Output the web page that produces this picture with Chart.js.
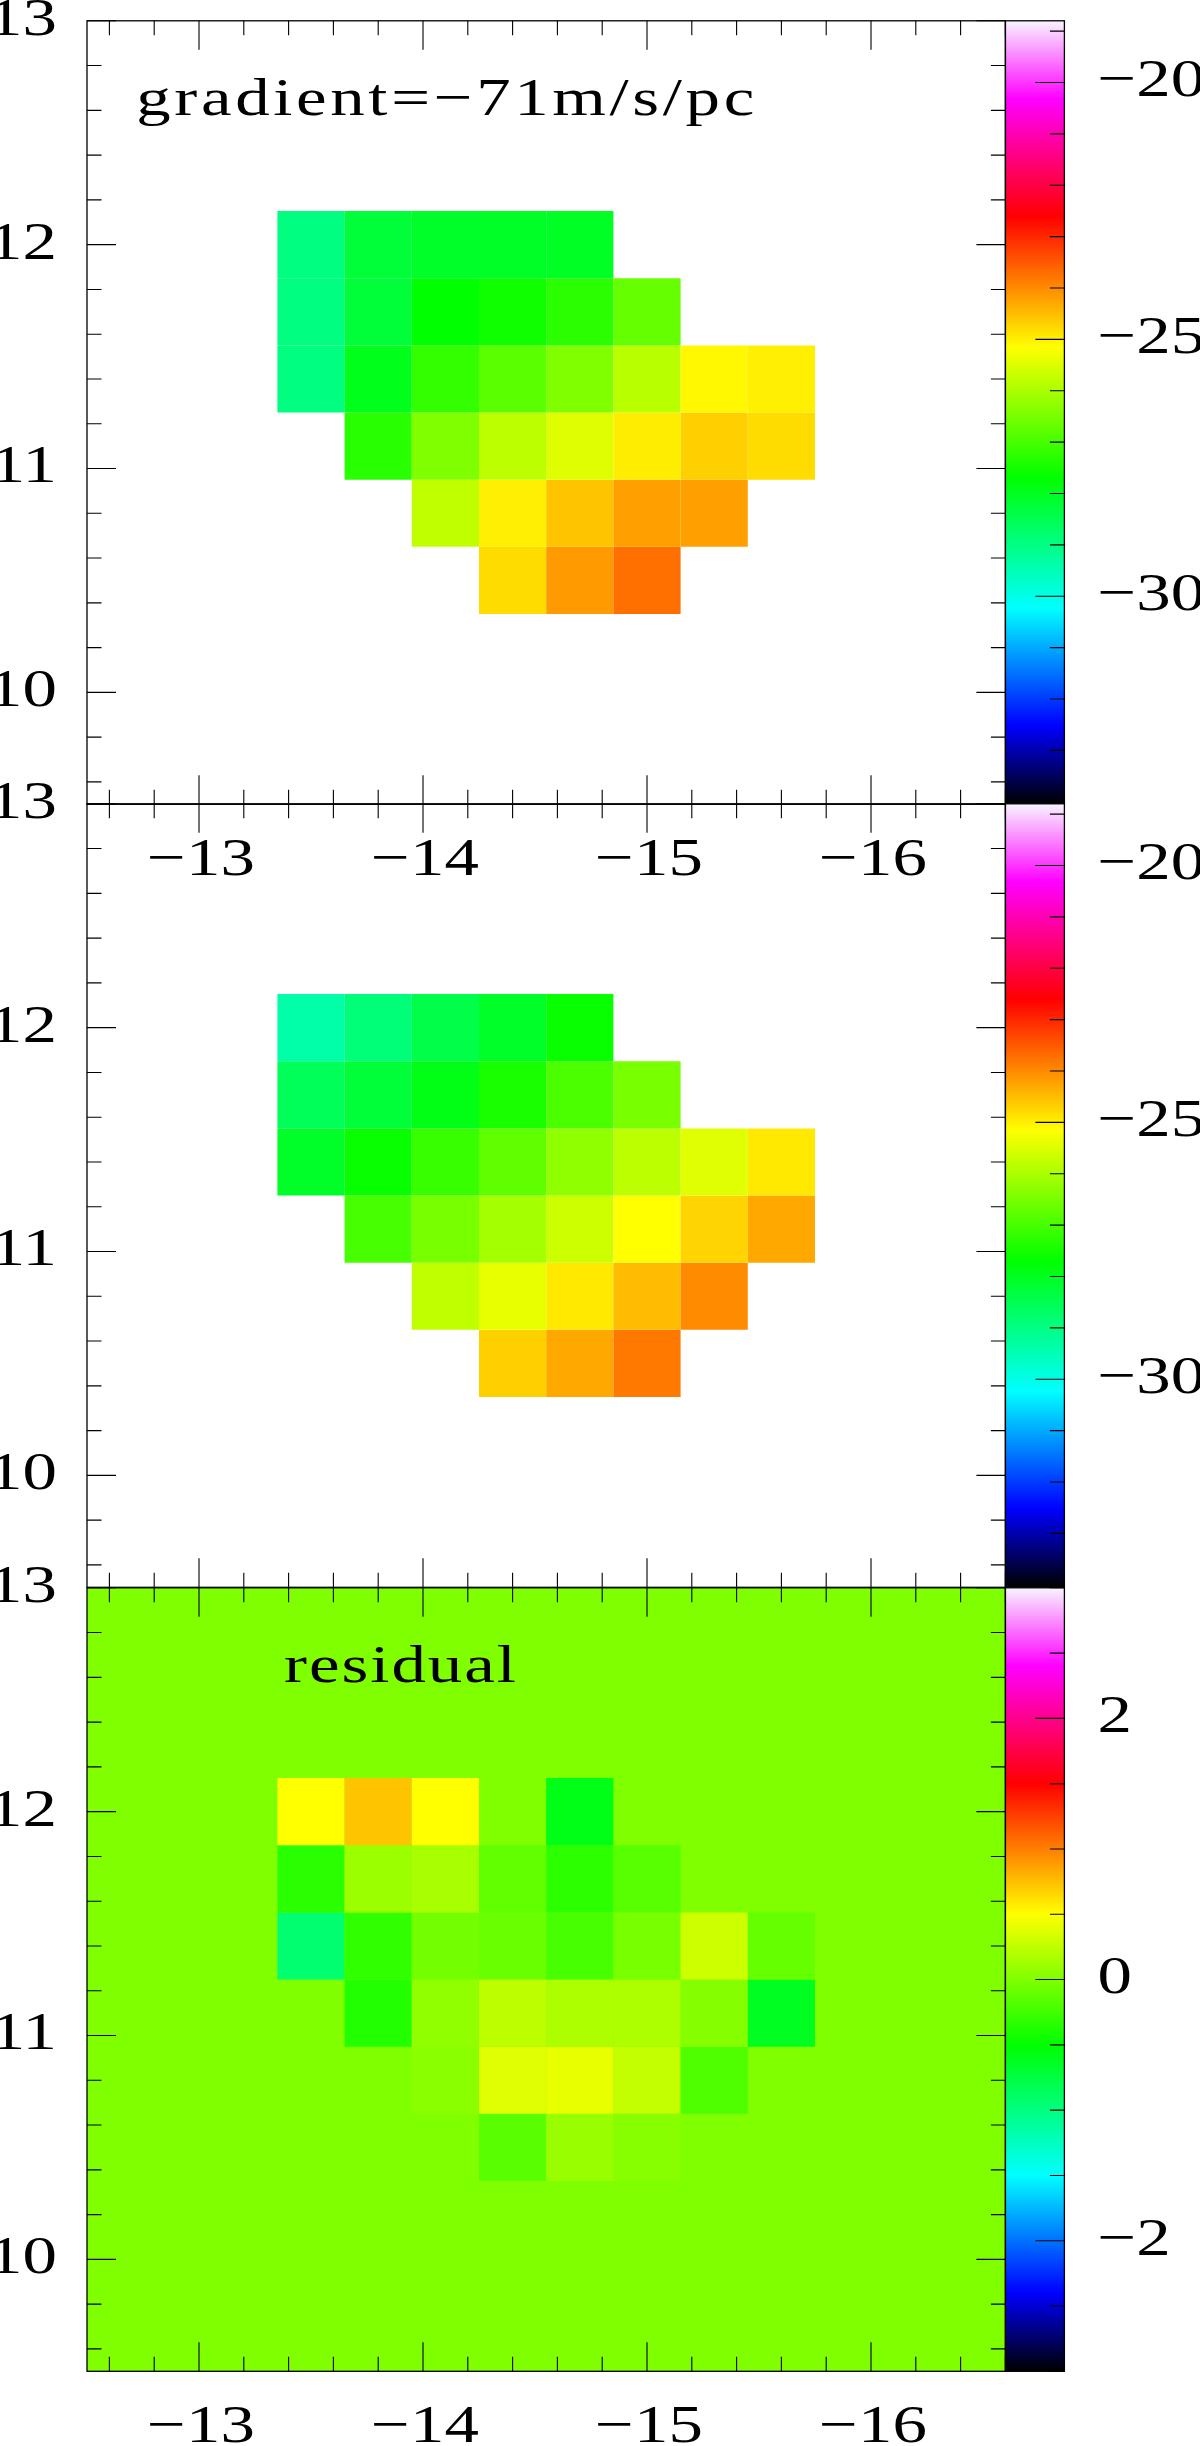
<!DOCTYPE html>
<html>
<head>
<meta charset="utf-8">
<script src="https://cdn.jsdelivr.net/npm/chart.js@4.4.0/dist/chart.umd.min.js"></script>
<style>
  html, body { margin: 0; padding: 0; background: #ffffff; width: 1200px; height: 2446px; overflow: hidden; }
  body { position: relative; }
  canvas { position: absolute; }
</style>
</head>
<body>
<canvas id="panelTop"></canvas>
<canvas id="panelMid"></canvas>
<canvas id="panelRes"></canvas>
<script>
// ---------------- data ----------------
const colCenters = [-13.5, -13.8, -14.1, -14.4, -14.7, -15.0, -15.3, -15.6];
const rowCenters = [12.0, 11.7, 11.4, 11.1, 10.8, 10.5];
const cellSize = 0.3;

const velocityTop = [
  [-28.97, -28.25, -28.10, -28.08, -28.06, null, null, null],
  [-28.97, -28.25, -27.70, -27.54, -27.29, -26.68, null, null],
  [-28.97, -27.95, -27.19, -26.80, -26.42, -25.86, -25.08, -24.99],
  [null, -27.30, -26.42, -25.83, -25.49, -24.97, -24.69, -24.81],
  [null, null, -25.78, -24.99, -24.57, -24.21, -24.21, null],
  [null, null, null, -24.81, -24.15, -23.73, null, null]
];
const velocityMid = [
  [-29.37, -28.89, -28.41, -28.09, -27.62, null, null, null],
  [-28.57, -28.25, -27.90, -27.46, -26.94, -26.50, null, null],
  [-28.09, -27.62, -27.14, -26.74, -26.26, -25.82, -25.46, -24.93],
  [null, -26.98, -26.50, -26.06, -25.66, -25.15, -24.73, -24.29],
  [null, null, -25.78, -25.38, -24.93, -24.49, -24.01, null],
  [null, null, null, -24.69, -24.29, -23.81, null, null]
];
const residualVals = [
  [0.50, 0.73, 0.50, 0.00, -0.59, null, null, null],
  [-0.34, 0.11, 0.16, -0.12, -0.33, -0.16, null, null],
  [-0.94, -0.31, -0.05, -0.09, -0.22, -0.03, 0.30, -0.10],
  [null, -0.37, 0.07, 0.24, 0.18, 0.18, 0.02, -0.63],
  [null, null, 0.04, 0.38, 0.41, 0.27, -0.19, null],
  [null, null, null, -0.15, 0.10, 0.03, null, null]
];

const xRange = [-16.6, -12.5];
const yRange = [9.5, 13.0];
const xMinorStep = 0.2;
const yMinorStep = 0.2;
const xMajorTicks = [-13, -14, -15, -16];
const yMajorTicks = [10, 11, 12, 13];
const velRange = [-34.05, -18.8];
const velMajorTicks = [-30, -25, -20];
const velMinorStep = 1;
const resRange = [-3, 3];
const resMajorTicks = [-2, 0, 2];
const resMinorStep = 0.5;
const labelTop = 'gradient=\u221271m/s/pc';
const labelRes = 'residual';

// colour map stops (fraction, rgb)
const cmapStops = [
  [0.0, [0, 0, 0]],
  [0.1, [0, 0, 255]],
  [0.25, [0, 255, 255]],
  [5 / 12, [0, 255, 0]],
  [7 / 12, [255, 255, 0]],
  [0.75, [255, 0, 0]],
  [0.9, [255, 0, 255]],
  [1.0, [248, 244, 255]]
];

// ---------------- helpers ----------------
const FONT = "'Liberation Serif', 'Times New Roman', serif";
const FONT_SIZE = 53;
const TEXT_STRETCH = 1.3;   // wide plotter-style glyphs
Chart.defaults.font.family = FONT;
Chart.defaults.font.size = FONT_SIZE;
Chart.defaults.color = '#000000';

const rgbStr = c => `rgb(${Math.round(c[0])},${Math.round(c[1])},${Math.round(c[2])})`;
function cmap(f) {
  f = Math.max(0, Math.min(1, f));
  for (let i = 1; i < cmapStops.length; i++) {
    const [f1, c1] = cmapStops[i];
    const [f0, c0] = cmapStops[i - 1];
    if (f <= f1) {
      const t = (f - f0) / (f1 - f0);
      return rgbStr([c0[0] + (c1[0] - c0[0]) * t, c0[1] + (c1[1] - c0[1]) * t, c0[2] + (c1[2] - c0[2]) * t]);
    }
  }
  return rgbStr(cmapStops[cmapStops.length - 1][1]);
}
const colorFor = (v, range) => cmap((v - range[0]) / (range[1] - range[0]));
const fmt = v => (v < 0 ? '\u2212' : '') + Math.abs(v);
const isMajor = (v, majors) => majors.some(m => Math.abs(m - v) < 1e-6);
function stepTicks(lo, hi, step) {
  const out = [];
  const a = Math.ceil(lo / step - 1e-6), b = Math.floor(hi / step + 1e-6);
  for (let i = a; i <= b; i++) out.push({ value: +(i * step).toFixed(6) });
  return out;
}

// ---------------- geometry ----------------
const CW = 1300, CH = 1100;
const PLOT_LEFT = 87, PLOT_W = 918.4, PLOT_H = 783.5, CB_W = 59;
const PANEL_TOPS = [20.5, 804, 1587.5];
const MAJ = 29, MIN = 14.5;

function stretchText(ctx) {
  if (ctx.__stretched) return;
  const orig = ctx.fillText;
  ctx.fillText = function (t, x, y, mw) {
    this.save();
    this.translate(x, y);
    this.scale(TEXT_STRETCH, 1);
    if (mw === undefined || mw === null) orig.call(this, t, 0, 0);
    else orig.call(this, t, 0, 0, mw / TEXT_STRETCH);
    this.restore();
  };
  ctx.__stretched = true;
}

function makeDeco(cfg) {
  return {
    id: 'deco',
    beforeUpdate(chart) { stretchText(chart.ctx); chart.ctx.letterSpacing = '0px'; },
    beforeDraw(chart) { stretchText(chart.ctx); chart.ctx.letterSpacing = '0px'; },
    beforeDatasetsDraw(chart) {
      if (!cfg.fillZero) return;
      const ca = chart.chartArea, ctx = chart.ctx;
      ctx.save();
      ctx.fillStyle = colorFor(0, cfg.range);
      ctx.fillRect(ca.left, ca.top, ca.right - ca.left, ca.bottom - ca.top);
      ctx.restore();
    },
    afterDraw(chart) {
      const ctx = chart.ctx, ca = chart.chartArea;
      const xs = chart.scales.x, ys = chart.scales.y, cs = chart.scales.cb;
      ctx.save();
      // colour bar
      const cbL = ca.right, cbR = ca.right + CB_W;
      const yb = cs.getPixelForValue(cfg.range[0]), yt = cs.getPixelForValue(cfg.range[1]);
      const g = ctx.createLinearGradient(0, yb, 0, yt);
      cmapStops.forEach(s => g.addColorStop(s[0], rgbStr(s[1])));
      ctx.fillStyle = g;
      ctx.fillRect(cbL, yt, CB_W, yb - yt);
      // frames
      ctx.strokeStyle = '#000000';
      ctx.lineWidth = 1.3;
      ctx.strokeRect(ca.left, ca.top, ca.right - ca.left, ca.bottom - ca.top);
      ctx.strokeRect(cbL, yt, CB_W, yb - yt);
      // inward tick marks
      ctx.lineWidth = 1.1;
      ctx.beginPath();
      xs.ticks.forEach(t => {
        const px = xs.getPixelForValue(t.value);
        const L = isMajor(t.value, xMajorTicks) ? MAJ : MIN;
        ctx.moveTo(px, ca.top); ctx.lineTo(px, ca.top + L);
        ctx.moveTo(px, ca.bottom); ctx.lineTo(px, ca.bottom - L);
      });
      ys.ticks.forEach(t => {
        const py = ys.getPixelForValue(t.value);
        const L = isMajor(t.value, yMajorTicks) ? MAJ : MIN;
        ctx.moveTo(ca.left, py); ctx.lineTo(ca.left + L, py);
        ctx.moveTo(ca.right, py); ctx.lineTo(ca.right - L, py);
      });
      cs.ticks.forEach(t => {
        const py = cs.getPixelForValue(t.value);
        const L = isMajor(t.value, cfg.cbMajor) ? MAJ : MIN;
        ctx.moveTo(cbR, py); ctx.lineTo(cbR - L, py);
      });
      ctx.stroke();
      // annotation
      if (cfg.text) {
        ctx.letterSpacing = cfg.spacing;
        ctx.font = `${FONT_SIZE}px ${FONT}`;
        ctx.fillStyle = '#000000';
        ctx.textAlign = 'left';
        ctx.textBaseline = 'alphabetic';
        ctx.fillText(cfg.text, xs.getPixelForValue(cfg.textPos[0]), ys.getPixelForValue(cfg.textPos[1]));
      }
      ctx.restore();
    }
  };
}

function axis(lo, hi, step, majors, extra) {
  return Object.assign({
    type: 'linear', min: lo, max: hi, offset: false, beginAtZero: false,
    grid: { display: false, drawTicks: false, tickLength: 0 },
    border: { display: false },
    afterBuildTicks: s => { s.ticks = stepTicks(lo, hi, step); }
  }, extra, {
    ticks: Object.assign({
      autoSkip: false, maxRotation: 0, minRotation: 0,
      callback: v => isMajor(v, majors) ? fmt(v) : ''
    }, extra.ticks || {})
  });
}

function makePanel(id, idx, values, range, cbMajor, cbStep, showX, fillZero, text, textPos, spacing) {
  const cv = document.getElementById(id);
  cv.width = CW; cv.height = CH;
  cv.style.width = CW + 'px'; cv.style.height = CH + 'px';
  const state = { leftW: 127, rightW: CW - 127 - PLOT_W, bottomH: 150 };

  // bar width: the library's ruler uses the minor-tick spacing, so scale to one cell
  const barPct = cellSize / xMinorStep;
  const datasets = rowCenters.map((yc, r) => {
    const pts = [], cols = [];
    colCenters.forEach((xc, c) => {
      const v = values[r][c];
      if (v === null) return;
      pts.push({ x: xc, y: [yc - cellSize / 2, yc + cellSize / 2] });
      cols.push(colorFor(v, range));
    });
    return {
      type: 'bar', data: pts, backgroundColor: cols, borderWidth: 0,
      grouped: false, barPercentage: barPct, categoryPercentage: 1,
      xAxisID: 'x', yAxisID: 'y'
    };
  });

  const chart = new Chart(cv, {
    type: 'bar',
    data: { datasets },
    options: {
      responsive: false, animation: false, events: [],
      layout: { padding: 0 },
      plugins: { legend: { display: false }, tooltip: { enabled: false }, title: { display: false } },
      scales: {
        x: axis(xRange[0], xRange[1], xMinorStep, xMajorTicks, {
          reverse: true, position: 'bottom',
          afterFit: s => { s.height = state.bottomH; },
          ticks: { display: showX, padding: 25, labelOffset: 2 }
        }),
        y: axis(yRange[0], yRange[1], yMinorStep, yMajorTicks, {
          position: 'left',
          afterFit: s => { s.width = state.leftW; },
          ticks: { padding: 30 }
        }),
        cb: axis(range[0], range[1], cbStep, cbMajor, {
          position: 'right', axis: 'y',
          afterFit: s => { s.width = state.rightW; },
          ticks: { padding: 92 }
        })
      }
    },
    plugins: [makeDeco({ range, cbMajor, fillZero, text, textPos, spacing })]
  });

  // fit the plot box to the required size (iterate), then place the canvas on the page
  for (let k = 0; k < 6; k++) {
    const ca = chart.chartArea;
    const dh = (ca.bottom - ca.top) - PLOT_H;
    const dw = (ca.right - ca.left) - PLOT_W;
    if (Math.abs(dh) < 0.05 && Math.abs(dw) < 0.05) break;
    state.bottomH += dh;
    state.rightW += dw;
    chart.update();
  }
  const ca = chart.chartArea;
  cv.style.left = (PLOT_LEFT - ca.left) + 'px';
  cv.style.top = (PANEL_TOPS[idx] - ca.top) + 'px';
  return chart;
}

makePanel('panelTop', 0, velocityTop, velRange, velMajorTicks, velMinorStep, true, false, labelTop, [-12.72, 12.578], '2.8px');
makePanel('panelMid', 1, velocityMid, velRange, velMajorTicks, velMinorStep, false, false, null, null, '0px');
makePanel('panelRes', 2, residualVals, resRange, resMajorTicks, resMinorStep, true, true, labelRes, [-13.38, 12.578], '1.5px');
</script>
</body>
</html>
